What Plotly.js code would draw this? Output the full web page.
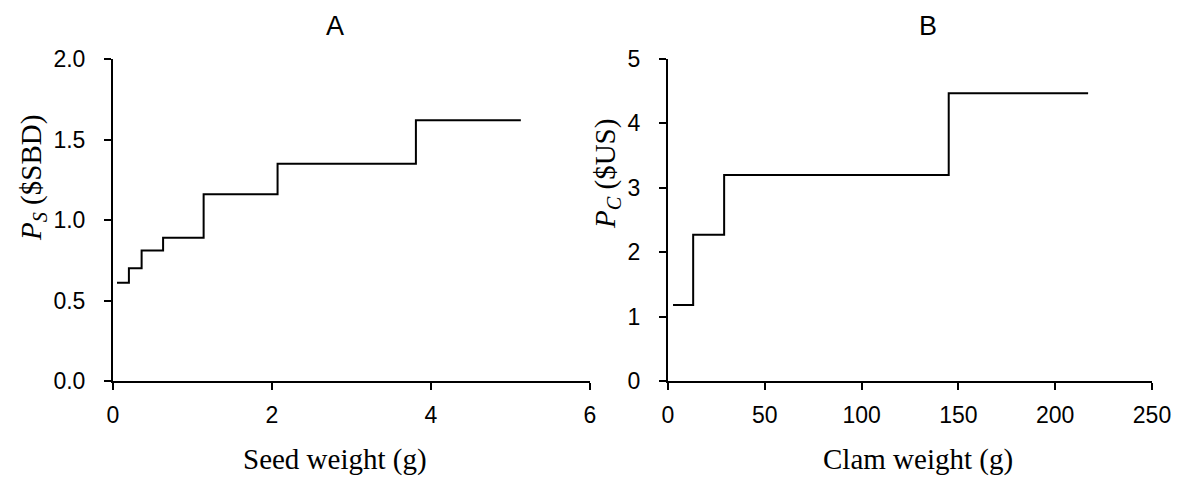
<!DOCTYPE html>
<html>
<head>
<meta charset="utf-8">
<script src="https://cdn.plot.ly/plotly-3.0.1.min.js"></script>
<style>html,body{margin:0;padding:0;background:#fff;}#chart{width:1180px;height:478px;}</style>
</head>
<body>
<div id="chart"></div>
<script>
// Panel A: seed price steps
const seedWeight = [0.05, 0.2, 0.36, 0.63, 1.14, 2.07, 3.81, 5.13];
const seedPrice  = [0.61, 0.70, 0.81, 0.89, 1.16, 1.35, 1.62, 1.62];
// Panel B: clam price steps
const clamWeight = [2.6, 13, 29, 145, 217];
const clamPrice  = [1.18, 2.27, 3.20, 4.47, 4.47];

const seedTicks = [0, 2, 4, 6];
const clamXTicks = [0, 50, 100, 150, 200, 250];
const seedYTicks = [0, 0.5, 1.0, 1.5, 2.0];
const clamYTicks = [0, 1, 2, 3, 4, 5];

const panelTitles = ['A', 'B'];
const xTitles = ['Seed weight (g)', 'Clam weight (g)'];
const yTitles = ['<i>P</i><sub><i>S</i></sub> ($SBD)', '<i>P</i><sub><i>C</i></sub> ($US)'];

const sans = 'Arial, "Liberation Sans", sans-serif';
const serif = '"Times New Roman", "Liberation Serif", serif';

const traces = [
  {x: seedWeight, y: seedPrice, type: 'scatter', mode: 'lines', line: {shape: 'hv', color: '#000', width: 2}, xaxis: 'x', yaxis: 'y'},
  {x: clamWeight, y: clamPrice, type: 'scatter', mode: 'lines', line: {shape: 'hv', color: '#000', width: 2}, xaxis: 'x2', yaxis: 'y2'}
];

function axisBase(extra) {
  return Object.assign({
    showgrid: false, zeroline: false, showline: true, linecolor: '#000', linewidth: 2,
    ticks: 'outside', ticklen: 7, tickwidth: 2, tickcolor: '#000',
    tickfont: {family: sans, size: 23, color: '#000'}, automargin: false, fixedrange: true
  }, extra);
}

const yDom = [97/478, 419/478];
const H = 478, W = 1180;

function ann(text, px, py, font, extra) {
  return Object.assign({text: text, xref: 'paper', yref: 'paper', x: px / W, y: 1 - py / H,
    xanchor: 'center', yanchor: 'middle', showarrow: false, font: font}, extra || {});
}

const titleFont = {family: sans, size: 27, color: '#000'};
const labFont = {family: serif, size: 29, color: '#000'};

const layout = {
  width: W, height: H,
  margin: {l: 0, r: 0, t: 0, b: 0},
  paper_bgcolor: '#fff', plot_bgcolor: '#fff',
  showlegend: false,
  xaxis: axisBase({domain: [113/W, 590/W], range: [0, 6], tickvals: seedTicks, ticktext: seedTicks.map(String), ticklabelstandoff: 5, anchor: 'y'}),
  yaxis: axisBase({domain: yDom, range: [0, 2], tickvals: seedYTicks, ticktext: seedYTicks.map(v => v.toFixed(1)), anchor: 'x', ticklabelstandoff: 14}),
  xaxis2: axisBase({domain: [668/W, 1152/W], range: [0, 250], tickvals: clamXTicks, ticktext: clamXTicks.map(String), ticklabelstandoff: 5, anchor: 'y2'}),
  yaxis2: axisBase({domain: yDom, range: [0, 5], tickvals: clamYTicks, ticktext: clamYTicks.map(String), anchor: 'x2', ticklabelstandoff: 14}),
  annotations: [
    ann(panelTitles[0], 335, 26, titleFont),
    ann(panelTitles[1], 928, 26, titleFont),
    ann(xTitles[0], 335, 459, labFont),
    ann(xTitles[1], 918, 459, labFont),
    ann(yTitles[0], 33, 178, labFont, {textangle: -90}),
    ann(yTitles[1], 607, 174, labFont, {textangle: -90})
  ]
};

Plotly.newPlot('chart', traces, layout, {displayModeBar: false, staticPlot: true});
</script>
</body>
</html>
